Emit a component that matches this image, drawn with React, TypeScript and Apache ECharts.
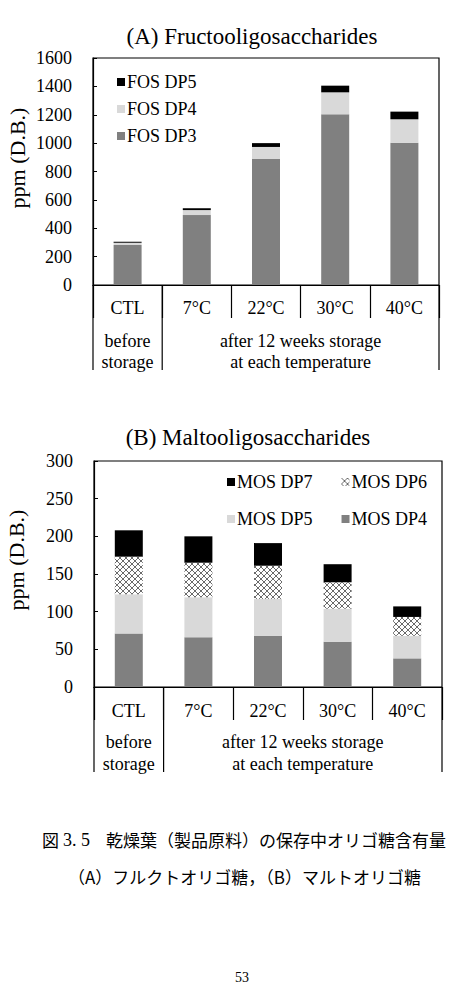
import React, { useEffect, useRef } from "react";
import * as echarts from "echarts";

const categories = ["CTL", "7°C", "22°C", "30°C", "40°C"];
const fosDP3 = [282, 493, 888, 1203, 1003];
const fosDP4 = [16, 35, 85, 155, 165];
const fosDP5 = [7, 13, 27, 47, 54];
const mosDP4 = [71, 66, 68, 60, 38];
const mosDP5 = [52, 53, 49, 44, 30];
const mosDP6 = [50, 46, 44, 35, 25];
const mosDP7 = [35, 35, 30, 24, 14];

const titleA = "(A) Fructooligosaccharides";
const titleB = "(B) Maltooligosaccharides";
const yName = "ppm (D.B.)";
const groupBefore = "before\nstorage";
const groupAfter = "after 12 weeks storage\nat each temperature";
const captionFig = "図";
const captionNum = "3. 5";
const caption1 = "乾燥葉（製品原料）の保存中オリゴ糖含有量";
const caption2 = "（A）フルクトオリゴ糖，（B）マルトオリゴ糖";
const pageNo = "53";

const SERIF = "Liberation Serif";
const JP = "Noto Sans CJK JP";

export default function App() {
  const ref = useRef<HTMLDivElement>(null);
  useEffect(() => {
    if (!ref.current) return;
    const chart = echarts.init(ref.current, undefined, { renderer: "svg" });

    const hatch = document.createElement("canvas");
    hatch.width = 6;
    hatch.height = 6;
    const ctx = hatch.getContext("2d")!;
    ctx.fillStyle = "#ffffff";
    ctx.fillRect(0, 0, 6, 6);
    ctx.strokeStyle = "#6a6a6a";
    ctx.lineWidth = 1;
    ctx.beginPath();
    ctx.moveTo(0, 0);
    ctx.lineTo(6, 6);
    ctx.moveTo(6, 0);
    ctx.lineTo(0, 6);
    ctx.stroke();

    const gA = { left: 93, top: 58, width: 346, height: 227 };
    const gB = { left: 94, top: 461, width: 348, height: 226 };
    const ext = 85;

    const GRAY = "#808080";
    const LIGHT = "#d9d9d9";
    const BLACK = "#000000";

    const xAxisCommon = (gridIndex: number, margin: number) => ({
      type: "category",
      gridIndex,
      data: categories,
      axisLine: { lineStyle: { color: "#000", width: 1.2 } },
      axisTick: { show: true, length: 33, lineStyle: { color: "#000", width: 1.2 } },
      axisLabel: { color: "#000", fontFamily: SERIF, fontSize: 18, margin },
      splitLine: { show: false },
    });
    const yAxisCommon = (gridIndex: number, max: number, interval: number) => ({
      type: "value",
      gridIndex,
      min: 0,
      max,
      interval,
      axisLine: { show: true, lineStyle: { color: "#000", width: 1.2 } },
      axisTick: { show: true, inside: true, length: 4, lineStyle: { color: "#000" } },
      axisLabel: {
        color: "#000",
        fontFamily: SERIF,
        fontSize: 18,
        margin: 21,
        formatter: (v: number) => String(v),
      },
      splitLine: { show: false },
    });

    const bar = (name: string, data: number[], xi: number, stack: string, color: any) => ({
      type: "bar",
      name,
      data,
      xAxisIndex: xi,
      yAxisIndex: xi,
      stack,
      barWidth: 28,
      itemStyle: { color },
    });

    const vline = (x: number, y1: number, y2: number) => ({
      type: "line",
      shape: { x1: x, y1, x2: x, y2 },
      style: { stroke: "#000", lineWidth: 1.2 },
    });

    const text = (t: string, x: number, y: number, size: number, family = SERIF, align = "center", lh?: number) => ({
      type: "text",
      x,
      y,
      style: {
        text: t,
        fill: "#000",
        font: `${size}px '${family}'`,
        align,
        verticalAlign: "middle",
        lineHeight: lh,
      },
    });

    const cwA = gA.width / categories.length;
    const cwB = gB.width / categories.length;
    const legendText = { color: "#000", fontFamily: SERIF, fontSize: 18, padding: [0, 0, 0, -3] };

    chart.setOption({
      animation: false,
      backgroundColor: "#ffffff",
      textStyle: { fontFamily: SERIF },
      grid: [
        { ...gA, show: true, borderColor: "#000", borderWidth: 1.2, backgroundColor: "transparent", containLabel: false },
        { ...gB, show: true, borderColor: "#000", borderWidth: 1.2, backgroundColor: "transparent", containLabel: false },
      ],
      xAxis: [xAxisCommon(0, 14), xAxisCommon(1, 15)],
      yAxis: [yAxisCommon(0, 1600, 200), yAxisCommon(1, 300, 50)],
      legend: [
        {
          data: ["FOS DP5", "FOS DP4", "FOS DP3"],
          orient: "vertical",
          left: 112,
          top: 68,
          itemWidth: 8,
          itemHeight: 8,
          itemGap: 9,
          icon: "rect",
          textStyle: legendText,
        },
        {
          data: ["MOS DP7", "MOS DP6"],
          orient: "horizontal",
          left: 222,
          top: 468,
          itemWidth: 8,
          itemHeight: 8,
          itemGap: 29,
          icon: "rect",
          textStyle: legendText,
        },
        {
          data: ["MOS DP5", "MOS DP4"],
          orient: "horizontal",
          left: 222,
          top: 505,
          itemWidth: 8,
          itemHeight: 8,
          itemGap: 29,
          icon: "rect",
          textStyle: legendText,
        },
      ],
      series: [
        bar("FOS DP3", fosDP3, 0, "A", GRAY),
        bar("FOS DP4", fosDP4, 0, "A", LIGHT),
        bar("FOS DP5", fosDP5, 0, "A", BLACK),
        bar("MOS DP4", mosDP4, 1, "B", GRAY),
        bar("MOS DP5", mosDP5, 1, "B", LIGHT),
        bar("MOS DP6", mosDP6, 1, "B", { image: hatch, repeat: "repeat" }),
        bar("MOS DP7", mosDP7, 1, "B", BLACK),
      ],
      graphic: [
        text(titleA, 252, 36, 23),
        text(titleB, 248, 437, 23),
        { ...text(yName, 17, 158, 22), rotation: Math.PI / 2 },
        { ...text(yName, 16, 560, 22), rotation: Math.PI / 2 },
        vline(gA.left, gA.top + gA.height, gA.top + gA.height + ext),
        vline(gA.left + cwA, gA.top + gA.height, gA.top + gA.height + ext),
        vline(gA.left + gA.width, gA.top + gA.height, gA.top + gA.height + ext),
        vline(gB.left, gB.top + gB.height, gB.top + gB.height + ext),
        vline(gB.left + cwB, gB.top + gB.height, gB.top + gB.height + ext),
        vline(gB.left + gB.width, gB.top + gB.height, gB.top + gB.height + ext),
        text(groupBefore, gA.left + cwA / 2, 351, 18, SERIF, "center", 21),
        text(groupAfter, gA.left + cwA + (gA.width - cwA) / 2, 351, 18, SERIF, "center", 21),
        text(groupBefore, gB.left + cwB / 2, 753, 18, SERIF, "center", 22),
        text(groupAfter, gB.left + cwB + (gB.width - cwB) / 2, 753, 18, SERIF, "center", 22),
        text(captionFig, 42, 839, 17, JP, "left"),
        text(captionNum, 63, 840, 18, SERIF, "left"),
        text(caption1, 106, 839, 17, JP, "left"),
        text(caption2, 68, 876, 17, JP, "left"),
        text(pageNo, 242, 977, 14, SERIF, "center"),
      ],
    });
    return () => chart.dispose();
  }, []);
  return (
    <div
      ref={ref}
      style={{ position: "absolute", left: 0, top: 0, width: 456, height: 999, background: "#fff" }}
    />
  );
}
